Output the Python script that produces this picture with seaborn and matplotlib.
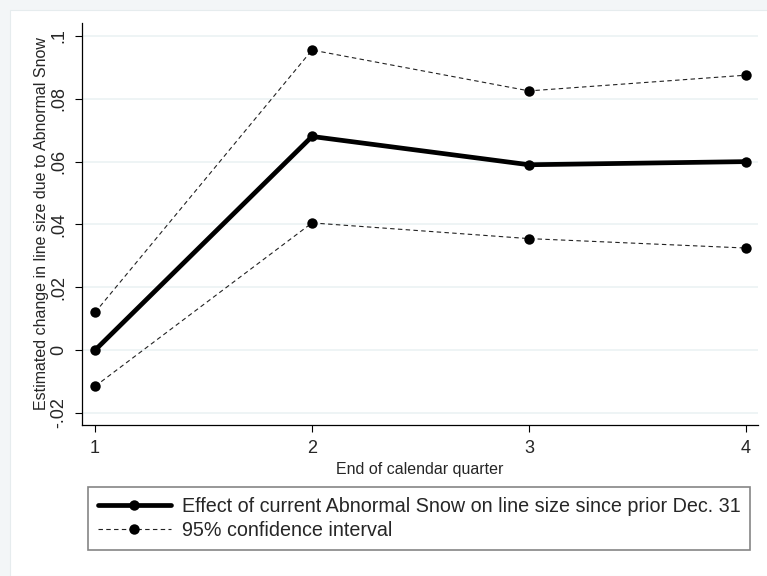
import pandas as pd
import matplotlib
matplotlib.use("Agg")
import matplotlib.pyplot as plt
import seaborn as sns
from matplotlib.patches import Rectangle

sns.set_style("white")
plt.rcParams['font.family'] = ['Liberation Sans', 'DejaVu Sans']

# data
quarters = [1, 2, 3, 4]
effect = [0.0, 0.068, 0.059, 0.060]
ci_upper = [0.012, 0.0955, 0.0825, 0.0875]
ci_lower = [-0.0115, 0.0405, 0.0355, 0.0325]

y_ticks = [-0.02, 0.0, 0.02, 0.04, 0.06, 0.08, 0.1]
y_tick_labels = ["-.02", "0", ".02", ".04", ".06", ".08", ".1"]

effect_label = "Effect of current Abnormal Snow on line size since prior Dec. 31"
ci_label = "95% confidence interval"

df = pd.DataFrame({"quarter": quarters, "effect": effect,
                   "upper": ci_upper, "lower": ci_lower})

fig = plt.figure(figsize=(7.67, 5.76), dpi=100)
fig.patch.set_facecolor("#f3f6f7")
# white inner graph region (Stata style)
fig.patches.append(Rectangle((10 / 767, 0), 1, 1 - 10 / 576, transform=fig.transFigure,
                             facecolor="white", edgecolor="#e6ecee", linewidth=0.8, zorder=-10))

ax = fig.add_axes([82 / 767, 1 - 425 / 576, (758 - 82) / 767, (425 - 23) / 576])
ax.set_facecolor("white")

sns.lineplot(data=df, x="quarter", y="effect", ax=ax, color="black", linewidth=3.4,
             marker="o", markersize=7.5, markeredgewidth=0, label=effect_label, zorder=3)
sns.lineplot(data=df, x="quarter", y="upper", ax=ax, color="#222222", linewidth=0.8,
             linestyle=(0, (4, 3)), marker="o", markersize=7.5, markerfacecolor="black",
             markeredgewidth=0, label=ci_label, zorder=2)
sns.lineplot(data=df, x="quarter", y="lower", ax=ax, color="#222222", linewidth=0.8,
             linestyle=(0, (4, 3)), marker="o", markersize=7.5, markerfacecolor="black",
             markeredgewidth=0, zorder=2)

ax.set_xlim(0.94, 4.055)
ax.set_ylim(-0.0238, 0.1041)
ax.set_xticks(quarters)
ax.set_xticklabels([str(q) for q in quarters])
ax.set_yticks(y_ticks)
ax.set_yticklabels(y_tick_labels, rotation=90, va="center")

ax.grid(axis="y", color="#e9f1f3", linewidth=1.1)
ax.set_axisbelow(True)
for side in ["top", "right"]:
    ax.spines[side].set_visible(False)
for side in ["left", "bottom"]:
    ax.spines[side].set_color("black")
    ax.spines[side].set_linewidth(0.9)

ax.tick_params(axis="both", direction="out", length=5, width=0.8, color="black",
               labelsize=13, pad=5.5, left=True, bottom=True)

ax.set_xlabel("End of calendar quarter", fontsize=11.5, labelpad=4)
ax.set_ylabel("Estimated change in line size due to Abnormal Snow", fontsize=11.5, labelpad=1)

leg = ax.legend(loc="upper left", bbox_to_anchor=(88 / 767, 1 - 487 / 576),
                bbox_transform=fig.transFigure, frameon=True, fancybox=False,
                edgecolor="#666666", fontsize=14.2, handlelength=3.7, borderpad=0.5,
                labelspacing=0.25, handletextpad=0.55, borderaxespad=0)
leg.get_frame().set_linewidth(1.2)

fig.savefig("out.png", dpi=100, facecolor=fig.get_facecolor())
